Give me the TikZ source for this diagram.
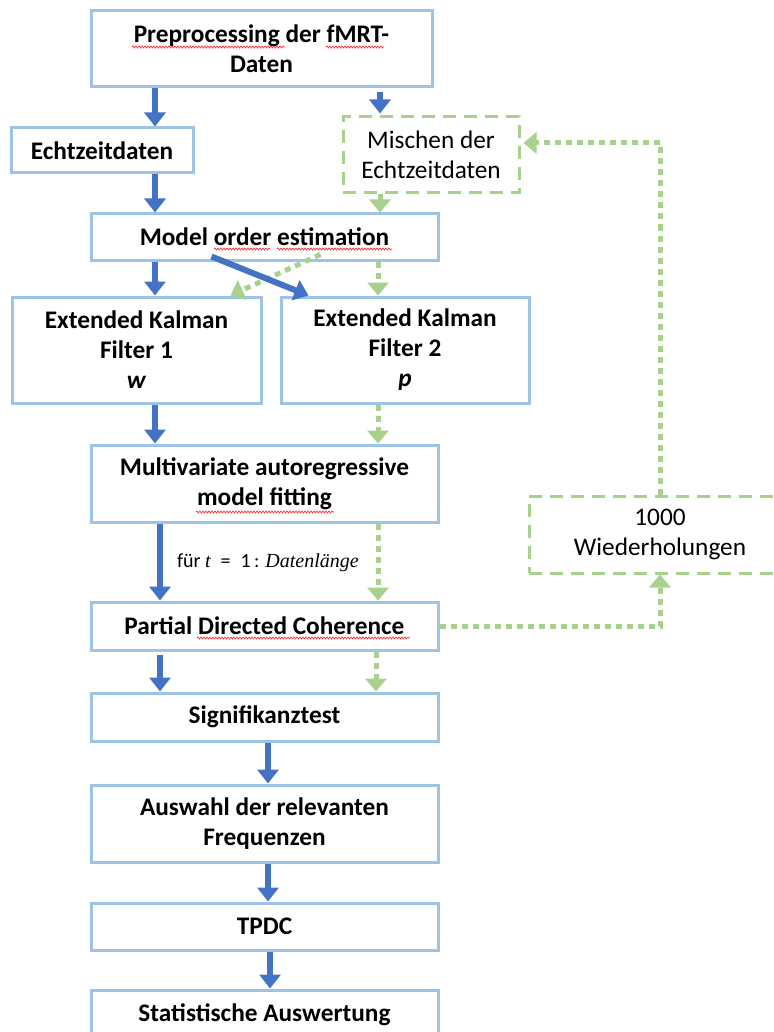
\documentclass[tikz,border=0pt]{standalone}
\usepackage{fontspec}
\setmainfont{Carlito}
\newfontfamily\serifit{Liberation Serif}
\usetikzlibrary{arrows.meta,calc,decorations.pathmorphing}
\definecolor{boxblue}{HTML}{9DC3E6}
\definecolor{arrblue}{HTML}{4472C4}
\definecolor{lgreen}{HTML}{A9D18E}
\begin{document}
\begin{tikzpicture}[x=1pt,y=-1pt,
  box/.style={draw=boxblue, line width=3pt, inner sep=0pt, align=center, fill=white,
    font=\fontsize{25.3}{30}\selectfont\bfseries},
  gbox/.style={draw=lgreen, line width=3pt, dash pattern=on 13pt off 8pt, inner sep=0pt,
    align=center, fill=white, font=\fontsize{25.3}{30}\selectfont},
  barr/.style={draw=arrblue, line width=6pt, -{Triangle[width=21pt,length=14pt]}},
  garr/.style={draw=lgreen, line width=5pt, dash pattern=on 6pt off 5pt,
    -{Triangle[width=21pt,length=13pt]}},
  squig/.style={draw=red!80, line width=0.7pt, decorate,
    decoration={snake, amplitude=1pt, segment length=3pt}}]
\useasboundingbox (0,0) rectangle (773,1032);
\clip (0,0) rectangle (773,1032);
\fill[white] (0,0) rectangle (773,1032);

% nodes
\node[box, minimum width=341pt, minimum height=76pt] (prep) at (261.5,49) {Preprocessing der fMRT-\\Daten};
\node[box, minimum width=182pt, minimum height=45pt] (echt) at (102,150.5) {Echtzeitdaten};
\node[gbox, minimum width=176pt, minimum height=76pt] (misch) at (431,155) {Mischen der\\Echtzeitdaten};
\node[box, minimum width=347pt, minimum height=46pt] (model) at (264.5,237) {Model order estimation};
\node[box, minimum width=249pt, minimum height=106pt] (ekf1) at (136.5,350) {Extended Kalman\\Filter 1\\\textit{w}};
\node[box, minimum width=248pt, minimum height=106pt] (ekf2) at (405,350) {Extended Kalman\\Filter 2\\\textit{p}};
\node[box, minimum width=347pt, minimum height=77pt] (mar) at (264.5,483.5) {Multivariate autoregressive\\model fitting};
\node[box, minimum width=347pt, minimum height=48pt] (pdc) at (264.5,626) {Partial Directed Coherence};
\node[gbox, minimum width=262pt, minimum height=77pt] (wied) at (660,534.5) {1000\\Wiederholungen};
\node[box, minimum width=347pt, minimum height=48pt] (sig) at (264.5,717) {Signifikanztest};
\node[box, minimum width=347pt, minimum height=77pt] (ausw) at (264.5,823.5) {Auswahl der relevanten\\Frequenzen};
\node[box, minimum width=347pt, minimum height=47pt] (tpdc) at (264.5,926.5) {TPDC};
\node[box, minimum width=347pt, minimum height=50pt] (stat) at (264.5,1015) {Statistische Auswertung};

% column coordinates
\coordinate (cA) at (155,0);
\coordinate (cB) at (380,0);
\coordinate (cC) at (378,0);
\coordinate (cD) at (160,0);
\coordinate (cE) at (376,0);
\coordinate (cF) at (268,0);
\coordinate (cG) at (270,0);
\coordinate (fb) at (0,143);

% connectors
\draw[barr] (prep.south -| cA) -- (echt.north -| cA);
\draw[barr, shorten <=4pt, shorten >=2pt] (prep.south -| cB) -- (misch.north -| cB);
\draw[barr] (echt.south -| cA) -- (model.north -| cA);
\draw[garr] (misch.south -| cB) -- (model.north -| cB);
\draw[barr] (model.south -| cA) -- (ekf1.north -| cA);
\draw[garr] ($(model.south west)+(231,-7)$) -- ($(ekf1.north west)+(220,0)$);
\draw[barr] ($(model.south west)+(122,-5)$) -- ($(ekf2.north west)+(29,0)$);
\draw[garr] (model.south -| cC) -- (ekf2.north -| cC);
\draw[barr] (ekf1.south -| cA) -- (mar.north -| cA);
\draw[garr] (ekf2.south -| cC) -- (mar.north -| cC);
\draw[barr] (mar.south -| cD) -- node[right, inner sep=0pt, xshift=14pt, yshift=-1pt,
  font=\fontsize{20}{22}\selectfont] (lab) {für {\serifit\itshape t}\enspace=\enspace1\,: {\serifit\itshape Datenlänge}} (pdc.north -| cD);
\draw[garr] (mar.south -| cC) -- (pdc.north -| cC);
\draw[barr, shorten <=3pt] (pdc.south -| cD) -- (sig.north -| cD);
\draw[garr] (pdc.south -| cE) -- (sig.north -| cE);
\draw[barr] (sig.south -| cF) -- (ausw.north -| cF);
\draw[barr] (ausw.south -| cF) -- (tpdc.north -| cF);
\draw[barr] (tpdc.south -| cG) -- (stat.north -| cG);
\draw[garr] (pdc.east) -| (wied.south);
\draw[garr, shorten >=3pt] (wied.north) |- (misch.east |- fb);

% spell-check squiggles
\draw[squig] (132,47) -- (285,47);
\draw[squig] (326,47) -- (384,47);
\draw[squig] (214,249) -- (270,249);
\draw[squig] (277,249) -- (392,249);
\draw[squig] (196,512) -- (334,512);
\draw[squig] (197,638) -- (410,638);
\end{tikzpicture}
\end{document}
